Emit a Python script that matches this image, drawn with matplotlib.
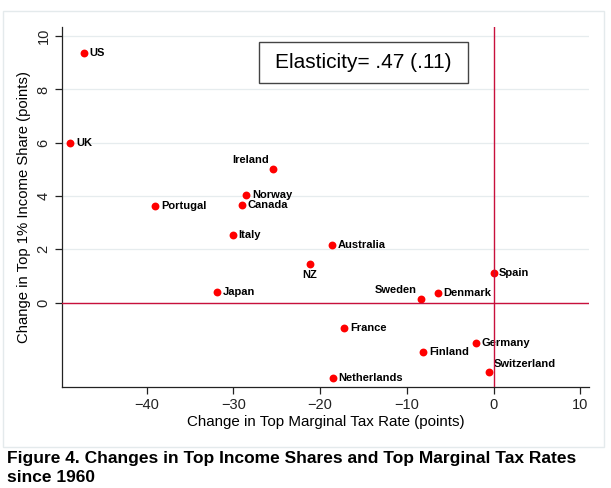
import matplotlib
matplotlib.use("Agg")
import matplotlib.pyplot as plt
import matplotlib.patches as mpatches

plt.rcParams["font.family"] = ["Liberation Sans", "DejaVu Sans"]

# change in top marginal tax rate (points) vs change in top 1% share (points)
countries = ["US", "UK", "Ireland", "Norway", "Canada", "Portugal", "Italy",
             "Japan", "Australia", "NZ", "Spain", "Sweden", "Denmark",
             "France", "Germany", "Finland", "Switzerland", "Netherlands"]
tax_change = [-47.2, -48.8, -25.4, -28.5, -29.0, -39.0, -30.1,
              -31.9, -18.6, -21.2, 0.0, -8.4, -6.4,
              -17.2, -2.0, -8.1, -0.5, -18.5]
share_change = [9.37, 6.01, 5.01, 4.06, 3.65, 3.64, 2.53,
                0.39, 2.16, 1.45, 1.10, 0.15, 0.35,
                -0.94, -1.50, -1.84, -2.61, -2.81]
# label placement: (dx, dy) in points, ha
label_pos = {"Ireland": (-3, 6.5, "right"), "NZ": (0, -8, "center"),
             "Sweden": (-3, 6.5, "right"), "Switzerland": (3, 6, "left")}

x_ticks = [-40, -30, -20, -10, 0, 10]
y_ticks = [0, 2, 4, 6, 8, 10]

RED_LINE = "#c8103c"
GRID = "#e6ecee"

fig = plt.figure(figsize=(6.11, 4.88), dpi=100)
ax = fig.add_axes([0.101, 0.207, 0.863, 0.738])

# light outer frame like the Stata graph region
fig.patches.append(mpatches.Rectangle((3 / 611, 1 - 447 / 488), 601 / 611, 436 / 488,
                                      transform=fig.transFigure, fill=False,
                                      edgecolor="#e4eaec", lw=1.0))

ax.set_xlim(-49.8, 11.0)
ax.set_ylim(-3.16, 10.35)
ax.set_xticks(x_ticks)
ax.set_xticklabels([f"{t}".replace("-", "\u2212") for t in x_ticks])
ax.set_yticks(y_ticks)
ax.set_yticklabels([str(t) for t in y_ticks], rotation=90, va="center")
ax.tick_params(direction="out", length=5, width=0.9, colors="#222222",
               labelsize=10.5, pad=3)
for side in ["top", "right"]:
    ax.spines[side].set_visible(False)
for side in ["left", "bottom"]:
    ax.spines[side].set_color("#222222")
    ax.spines[side].set_linewidth(0.9)
ax.grid(axis="y", color=GRID, lw=0.9)
ax.set_axisbelow(True)

ax.scatter(tax_change, share_change, s=32, color="#ff0000", zorder=3,
           linewidths=0)
for name, xv, yv in zip(countries, tax_change, share_change):
    dx, dy, ha = label_pos.get(name, (4, 0, "left"))
    ax.annotate(name, (xv, yv), xytext=(dx, dy), textcoords="offset points",
                ha=ha, va="center", fontsize=8, fontweight="bold", zorder=3)

ax.axhline(0, color=RED_LINE, lw=1.0, zorder=4)
ax.axvline(0, color=RED_LINE, lw=1.0, zorder=4)

ax.add_patch(mpatches.Rectangle((0.375, 0.845), 0.395, 0.112,
                                transform=ax.transAxes, fill=False,
                                edgecolor="#444444", lw=1.0, zorder=5))
ax.text(0.5725, 0.901, "Elasticity= .47 (.11)", transform=ax.transAxes,
        ha="center", va="center", fontsize=15, zorder=5)

ax.set_xlabel("Change in Top Marginal Tax Rate (points)", fontsize=10.9,
              labelpad=2)
ax.set_ylabel("Change in Top 1% Income Share (points)", fontsize=10.7,
              labelpad=4)

fig.text(0.011, 1 - 451 / 488,
         "Figure 4. Changes in Top Income Shares and Top Marginal Tax Rates\nsince 1960",
         ha="left", va="top", fontsize=12.5, fontweight="bold", linespacing=1.3)

fig.savefig("out.png", dpi=100)
